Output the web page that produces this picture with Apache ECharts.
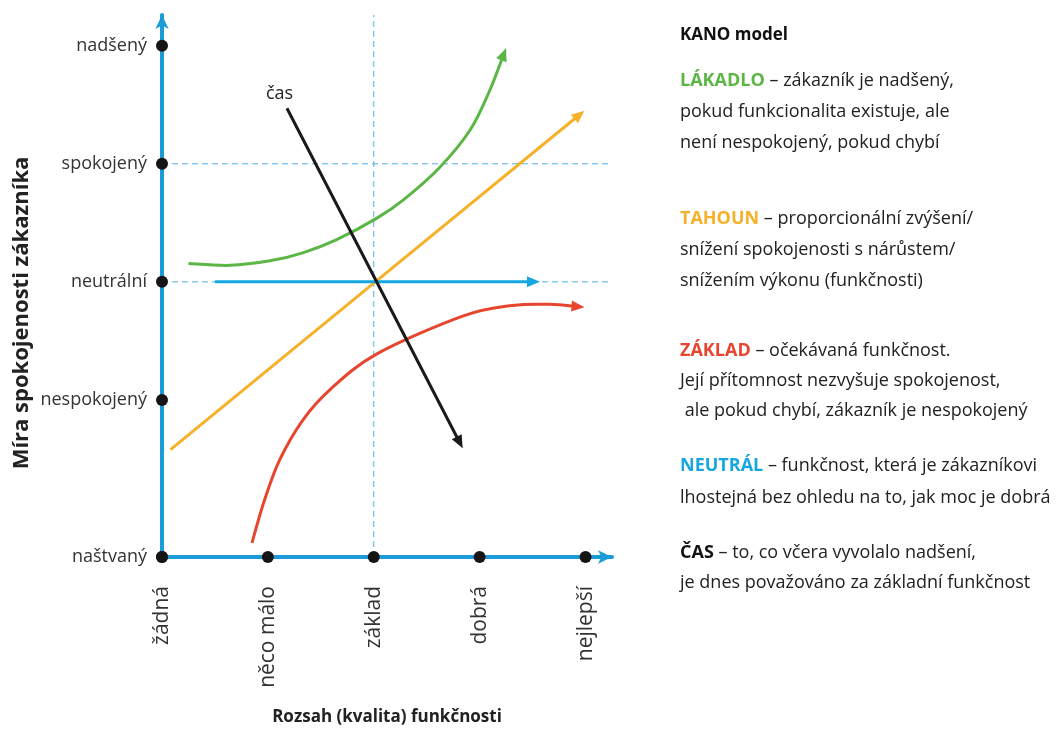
<!DOCTYPE html>
<html><head><meta charset="utf-8">
<script src="https://cdn.jsdelivr.net/npm/echarts@6/dist/echarts.min.js"></script>
<style>html,body{margin:0;padding:0;background:#fff}#c{width:1058px;height:731px}</style>
</head><body><div id="c"></div>
<script>
// ---- data ----
const xCats = ['žádná', 'něco málo', 'základ', 'dobrá', 'nejlepší'];
const xPos = [0, 1, 2, 3, 4];
const yCats = ['naštvaný', 'nespokojený', 'neutrální', 'spokojený', 'nadšený'];
const yPos = [-2.33, -1, 0, 1, 2];
const lakadlo = [[0.25,0.156],[0.64,0.140],[1.02,0.178],[1.33,0.246],[1.65,0.358],[2.03,0.540],[2.28,0.695],[2.62,0.967],[2.91,1.286],[3.09,1.61],[3.25,1.98]];
const tahoun = [[0.08,-1.42],[3.99,1.45]];
const neutral = [[0.5,0],[3.57,0]];
const zaklad = [[0.85,-2.21],[0.96,-1.87],[1.11,-1.51],[1.33,-1.17],[1.59,-0.91],[2.03,-0.61],[2.84,-0.29],[3.31,-0.20],[3.66,-0.19],[3.99,-0.214]];
const cas = [[1.18,1.47],[2.84,-1.41]];
const refV = [[2,-2.33],[2,2.26]];
const refSpok = [[0,1],[4.22,1]];
const refNeut = [[0,0],[4.22,0]];

const FONT = '"Open Sans", sans-serif';
const AX = '#1b9bd8';
const C = {green:'#5cb646', orange:'#f6b12a', red:'#e8452f', blue:'#16a7e1', black:'#1a1a1a', dash:'#4fafe4'};

// smooth curve (Catmull-Rom through the data points) ending in an arrowhead
function curve(name, pts, color) {
  return {
    type: 'custom', name, data: pts, encode: {x: 0, y: 1}, silent: true, z: 3,
    renderItem(params, api) {
      if (params.dataIndex !== 0) return null;
      const P = pts.map(p => api.coord(p));
      const n = P.length;
      const tip = P[n - 1], prev = P[n - 2];
      let ux = tip[0] - prev[0], uy = tip[1] - prev[1];
      const L = Math.hypot(ux, uy); ux /= L; uy /= L;
      const AL = 13, AW = 5.5;
      const Q = P.slice(); Q[n - 1] = [tip[0] - ux * 8, tip[1] - uy * 8];
      let d = 'M' + Q[0][0] + ' ' + Q[0][1];
      for (let i = 0; i < n - 1; i++) {
        const p0 = Q[Math.max(i - 1, 0)], p1 = Q[i], p2 = Q[i + 1], p3 = Q[Math.min(i + 2, n - 1)];
        const c1 = [p1[0] + (p2[0] - p0[0]) / 6, p1[1] + (p2[1] - p0[1]) / 6];
        const c2 = [p2[0] - (p3[0] - p1[0]) / 6, p2[1] - (p3[1] - p1[1]) / 6];
        d += ' C' + c1[0] + ' ' + c1[1] + ' ' + c2[0] + ' ' + c2[1] + ' ' + p2[0] + ' ' + p2[1];
      }
      const bx = tip[0] - ux * AL, by = tip[1] - uy * AL;
      return {type: 'group', children: [
        {type: 'path', shape: {pathData: d}, style: {stroke: color, lineWidth: 3, fill: 'none'}},
        {type: 'polygon', shape: {points: [tip, [bx - uy * AW, by + ux * AW], [bx + uy * AW, by - ux * AW]]},
          style: {fill: color}}
      ]};
    }
  };
}
function dashed(data) {
  return {type: 'line', data, symbol: 'none', silent: true, z: 1,
    lineStyle: {color: C.dash, width: 1, type: [6, 4]}};
}

const chart = echarts.init(document.getElementById('c'));
chart.setOption({
  animation: false,
  backgroundColor: '#fff',
  grid: {left: 162, right: 446, top: 15, bottom: 165, containLabel: false},
  xAxis: {
    type: 'value', min: 0, max: 4.25,
    name: 'Rozsah (kvalita) funkčnosti', nameLocation: 'middle', nameGap: 152,
    nameTextStyle: {fontFamily: FONT, fontSize: 17, fontWeight: 'bold', color: '#222'},
    axisLine: {show: true, onZero: false, symbol: ['none', 'arrow'], symbolSize: [10, 14], lineStyle: {color: AX, width: 4}},
    axisTick: {show: false}, splitLine: {show: false},
    axisLabel: {customValues: xPos, rotate: 90, margin: 29, fontFamily: FONT, fontSize: 21, color: '#333',
      formatter: v => xCats[xPos.indexOf(v)] ?? ''}
  },
  yAxis: {
    type: 'value', min: -2.33, max: 2.26,
    name: 'Míra spokojenosti zákazníka', nameLocation: 'middle', nameGap: 129, nameRotate: 90,
    nameTextStyle: {fontFamily: FONT, fontSize: 22, fontWeight: 'bold', color: '#222', padding: [0, 54, 0, 0]},
    axisLine: {show: true, onZero: false, symbol: ['none', 'arrow'], symbolSize: [10, 14], lineStyle: {color: AX, width: 4}},
    axisTick: {show: false}, splitLine: {show: false},
    axisLabel: {customValues: yPos, margin: 15, fontFamily: FONT, fontSize: 18, color: '#333',
      formatter: v => yCats[yPos.indexOf(v)] ?? ''}
  },
  series: [
    dashed(refV), dashed(refSpok), dashed(refNeut),
    curve('LÁKADLO', lakadlo, C.green),
    curve('TAHOUN', tahoun, C.orange),
    curve('NEUTRÁL', neutral, C.blue),
    curve('ZÁKLAD', zaklad, C.red),
    curve('ČAS', cas, C.black),
    {type: 'scatter', symbolSize: 12, itemStyle: {color: '#151515', opacity: 1}, z: 5, silent: true,
      data: xPos.map(x => [x, yPos[0]]).concat(yPos.map(y => [0, y]))}
  ],
  graphic: [
    {type: 'text', left: 266, top: 85, style: {text: 'čas', font: '18px ' + FONT, fill: '#222'}},
    {type: 'text', left: 680, top: 27, style: {text: 'KANO model', font: 'bold 17px ' + FONT, fill: '#111'}},
    {type: 'text', left: 680, top: 65, style: {
      text: '{g|LÁKADLO} – zákazník je nadšený,\npokud funkcionalita existuje, ale\nnení nespokojený, pokud chybí',
      font: '18px ' + FONT, fill: '#222', lineHeight: 31,
      rich: {g: {fill: C.green, font: 'bold 18px ' + FONT}}}},
    {type: 'text', left: 680, top: 203, style: {
      text: '{o|TAHOUN} – proporcionální zvýšení/\nsnížení spokojenosti s nárůstem/\nsnížením výkonu (funkčnosti)',
      font: '18px ' + FONT, fill: '#222', lineHeight: 31,
      rich: {o: {fill: C.orange, font: 'bold 18px ' + FONT}}}},
    {type: 'text', left: 680, top: 336, style: {
      text: '{r|ZÁKLAD} – očekávaná funkčnost.\nJejí přítomnost nezvyšuje spokojenost,\n ale pokud chybí, zákazník je nespokojený',
      font: '18px ' + FONT, fill: '#222', lineHeight: 30,
      rich: {r: {fill: C.red, font: 'bold 18px ' + FONT}}}},
    {type: 'text', left: 680, top: 450, style: {
      text: '{b|NEUTRÁL} – funkčnost, která je zákazníkovi\nlhostejná bez ohledu na to, jak moc je dobrá',
      font: '18px ' + FONT, fill: '#222', lineHeight: 32,
      rich: {b: {fill: C.blue, font: 'bold 18px ' + FONT}}}},
    {type: 'text', left: 680, top: 538, style: {
      text: '{k|ČAS} – to, co včera vyvolalo nadšení,\nje dnes považováno za základní funkčnost',
      font: '18px ' + FONT, fill: '#222', lineHeight: 30,
      rich: {k: {fill: '#111', font: 'bold 18px ' + FONT}}}}
  ]
});
</script></body></html>
